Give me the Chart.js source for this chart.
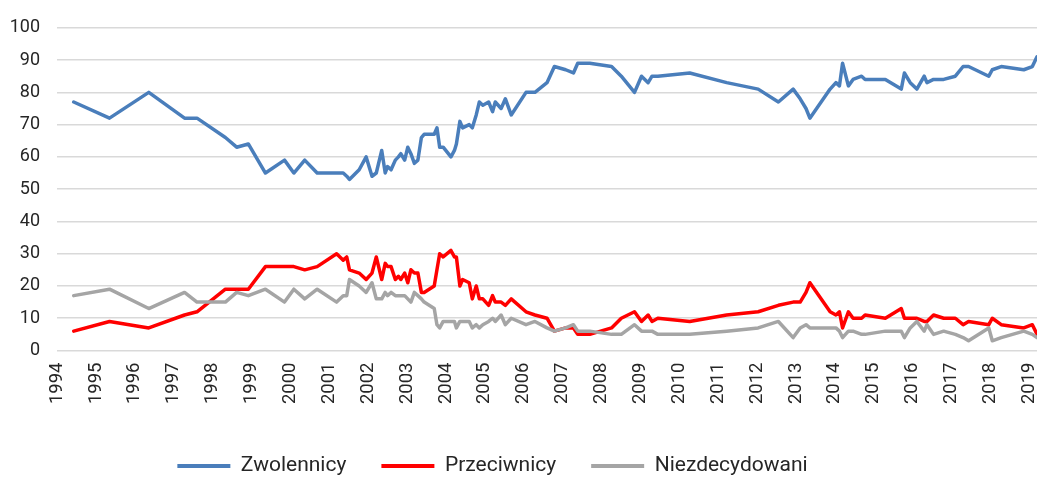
<!DOCTYPE html>
<html>
<head>
<meta charset="utf-8">
<script src="https://cdn.jsdelivr.net/npm/chart.js@4.4.1/dist/chart.umd.min.js"></script>
<style>
    body { margin: 0; background: #fff; }
    #wrap { width: 1037px; height: 478px; }
</style>
</head>
<body>
<div id="wrap"><canvas id="pollChart"></canvas></div>
<script>
// survey dates as decimal years
const dates = [
    1994.43, 1995.35, 1996.36, 1997.28, 1997.60, 1998.33, 1998.62, 1998.92, 1999.36, 1999.85,
    2000.09, 2000.37, 2000.69, 2001.19, 2001.36, 2001.45, 2001.52, 2001.77, 2001.95, 2002.10,
    2002.21, 2002.35, 2002.44, 2002.50, 2002.59, 2002.70, 2002.78, 2002.84, 2002.94, 2003.02,
    2003.10, 2003.19, 2003.28, 2003.37, 2003.44, 2003.70, 2003.77, 2003.84, 2003.93, 2004.13,
    2004.22, 2004.27, 2004.36, 2004.43, 2004.60, 2004.68, 2004.78, 2004.86, 2004.95, 2005.10,
    2005.20, 2005.27, 2005.42, 2005.53, 2005.68, 2006.06, 2006.29, 2006.60, 2006.79, 2007.08,
    2007.28, 2007.39, 2007.70, 2008.26, 2008.51, 2008.85, 2009.03, 2009.20, 2009.30, 2009.45,
    2010.27, 2011.22, 2012.03, 2012.55, 2012.93, 2013.11, 2013.26, 2013.36, 2013.88, 2014.03,
    2014.12, 2014.20, 2014.35, 2014.47, 2014.69, 2014.78, 2015.30, 2015.71, 2015.79, 2015.94,
    2016.11, 2016.30, 2016.37, 2016.54, 2016.80, 2017.10, 2017.30, 2017.44, 2017.96, 2018.05,
    2018.28, 2018.86, 2019.08, 2019.20
];

const zwolennicy = [
    77, 72, 80, 72, 72, 66, 63, 64, 55, 59,
    55, 59, 55, 55, 55, 54, 53, 56, 60, 54,
    55, 62, 55, 57, 56, 59, 60, 61, 59, 63,
    61, 58, 59, 66, 67, 67, 69, 63, 63, 60,
    62, 64, 71, 69, 70, 69, 73, 77, 76, 77,
    74, 77, 75, 78, 73, 80, 80, 83, 88, 87,
    86, 89, 89, 88, 85, 80, 85, 83, 85, 85,
    86, 83, 81, 77, 81, 78, 75, 72, 81, 83,
    82, 89, 82, 84, 85, 84, 84, 81, 86, 83,
    81, 85, 83, 84, 84, 85, 88, 88, 85, 87,
    88, 87, 88, 91
];

const przeciwnicy = [
    6, 9, 7, 11, 12, 19, 19, 19, 26, 26,
    26, 25, 26, 30, 28, 29, 25, 24, 22, 24,
    29, 22, 27, 26, 26, 22, 23, 22, 24, 21,
    25, 24, 24, 18, 18, 20, 25, 30, 29, 31,
    29, 29, 20, 22, 21, 16, 20, 16, 16, 14,
    17, 15, 15, 14, 16, 12, 11, 10, 6, 7,
    7, 5, 5, 7, 10, 12, 9, 11, 9, 10,
    9, 11, 12, 14, 15, 15, 18, 21, 12, 11,
    12, 7, 12, 10, 10, 11, 10, 13, 10, 10,
    10, 9, 9, 11, 10, 10, 8, 9, 8, 10,
    8, 7, 8, 5
];

const niezdecydowani = [
    17, 19, 13, 18, 15, 15, 18, 17, 19, 15,
    19, 16, 19, 15, 17, 17, 22, 20, 18, 21,
    16, 16, 18, 17, 18, 17, 17, 17, 17, 16,
    15, 18, 17, 16, 15, 13, 8, 7, 9, 9,
    9, 7, 9, 9, 9, 7, 8, 7, 8, 9,
    10, 9, 11, 8, 10, 8, 9, 7, 6, 7,
    8, 6, 6, 5, 5, 8, 6, 6, 6, 5,
    5, 6, 7, 9, 4, 7, 8, 7, 7, 7,
    6, 4, 6, 6, 5, 5, 6, 6, 4, 7,
    9, 6, 8, 5, 6, 5, 4, 3, 7, 3,
    4, 6, 5, 4
];

const seriesNames = ['Zwolennicy', 'Przeciwnicy', 'Niezdecydowani'];
const yTicks = [0, 10, 20, 30, 40, 50, 60, 70, 80, 90, 100];

const textColor = '#262626';
const colors = ['rgb(74, 126, 187)', 'rgb(255, 0, 0)', 'rgb(165, 165, 165)'];

function toPoints(values) {
    return values.map((v, i) => ({ x: dates[i], y: v }));
}

function makeSet(idx, values) {
    return {
        label: seriesNames[idx],
        data: toPoints(values),
        borderColor: colors[idx],
        backgroundColor: colors[idx],
        borderWidth: 3.5,
        borderJoinStyle: 'round',
        borderCapStyle: 'round',
        pointRadius: 0,
        tension: 0,
        order: 2 - idx
    };
}

// move the legend row to where the original has it
const legendPlace = {
    id: 'legendPlace',
    afterLayout(chart) {
        const lg = chart.legend;
        if (!lg) return;
        const pad = lg.options.labels.padding;
        const fs = lg.options.labels.font.size;
        const top = 466 - pad - fs / 2;
        const h = lg.bottom - lg.top;
        lg.top = top;
        lg.bottom = top + h;
        lg.left -= 26;
        lg.right -= 26;
    }
};

const ctx = document.getElementById('pollChart');

new Chart(ctx, {
    type: 'line',
    data: {
        datasets: [
            makeSet(0, zwolennicy),
            makeSet(1, przeciwnicy),
            makeSet(2, niezdecydowani)
        ]
    },
    plugins: [legendPlace],
    options: {
        responsive: true,
        maintainAspectRatio: false,
        animation: false,
        layout: {
            padding: { top: 24, right: 0, bottom: 0, left: 0 }
        },
        plugins: {
            tooltip: { enabled: false },
            legend: {
                position: 'bottom',
                labels: {
                    color: textColor,
                    font: { family: 'Roboto', size: 21 },
                    boxWidth: 53,
                    boxHeight: 4,
                    padding: 35,
                    sort: (a, b) => a.datasetIndex - b.datasetIndex,
                    generateLabels: (chart) =>
                        Chart.defaults.plugins.legend.labels.generateLabels(chart)
                            .map(l => ({ ...l, lineWidth: 0 }))
                }
            }
        },
        scales: {
            x: {
                type: 'linear',
                min: 1994,
                max: 2019.2,
                grid: { display: false, drawTicks: false },
                border: { display: false },
                ticks: {
                    stepSize: 1,
                    includeBounds: false,
                    autoSkip: false,
                    minRotation: 90,
                    maxRotation: 90,
                    padding: 12,
                    color: textColor,
                    font: { family: 'Roboto', size: 18.5 },
                    callback: (v) => String(v)
                },
                afterFit: (scale) => {
                    scale.height = 61.5;
                    scale.paddingLeft = 0;
                    scale.paddingRight = 0;
                }
            },
            y: {
                min: 0,
                max: 100,
                afterBuildTicks: (scale) => {
                    scale.ticks = yTicks.map(v => ({ value: v }));
                },
                grid: { color: '#d9d9d9', lineWidth: 1.5, drawTicks: false },
                border: { display: false },
                ticks: {
                    padding: 17,
                    color: textColor,
                    font: { family: 'Roboto', size: 18 }
                },
                afterFit: (scale) => { scale.width = 57; }
            }
        }
    }
});
</script>
</body>
</html>
